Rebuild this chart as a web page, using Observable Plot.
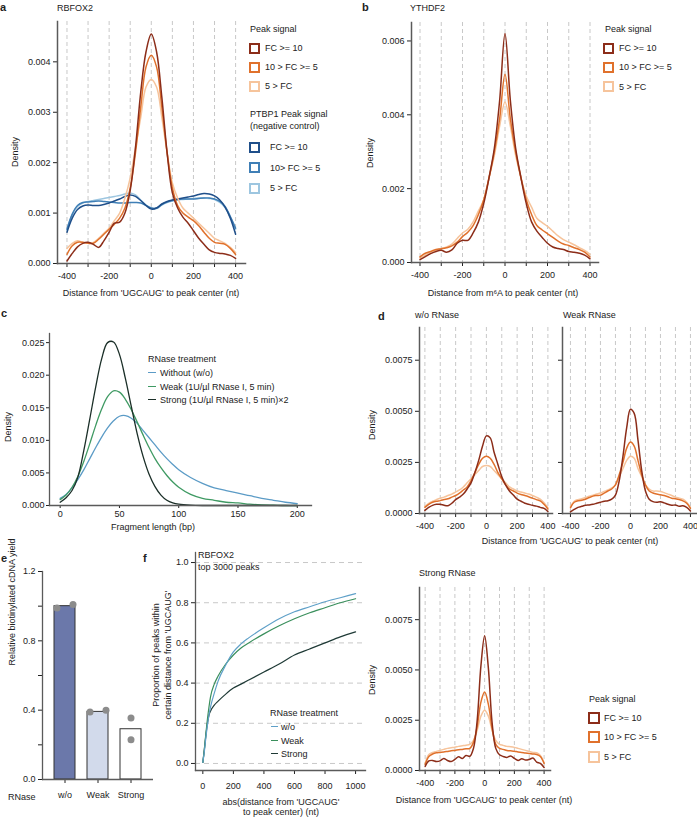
<!DOCTYPE html>
<html>
<head>
<meta charset="utf-8">
<script src="https://cdn.jsdelivr.net/npm/d3@7"></script>
<script src="https://cdn.jsdelivr.net/npm/@observablehq/plot@0.6"></script>
<style>
body{margin:0;background:#fff;}
#fig{position:relative;width:697px;height:818px;overflow:hidden;font-family:"Liberation Sans",Arial,sans-serif;color:#222;background:#fff;}
</style>
</head>
<body>
<div id="fig"></div>
<script>
// ---------------- DATA ----------------
// shared distance grid (nt) for density panels a, b, d
const distX = [-400,-375,-350,-325,-300,-275,-250,-225,-200,-175,-150,-125,-100,-75,-50,-25,0,25,50,75,100,125,150,175,200,225,250,275,300,325,350,375,400];
const distTicks = [-400,-300,-200,-100,0,100,200,300,400];
const distTickLabels = [-400,-200,0,200,400];

// panel a: RBFOX2
const aFC10 = [0.00005,0.0002,0.00033,0.0004,0.00042,0.00038,0.00032,0.00045,0.00062,0.0008,0.00082,0.001,0.00145,0.0023,0.0034,0.0042,0.00455,0.0042,0.0033,0.0022,0.0014,0.0011,0.00092,0.0008,0.00065,0.0005,0.00038,0.00027,0.00022,0.0002,0.00019,0.00016,0.0001];
const aFC5  = [0.00018,0.00035,0.00042,0.00042,0.0004,0.0004,0.00048,0.00058,0.00068,0.00078,0.0009,0.0011,0.0015,0.0022,0.0031,0.0039,0.00413,0.0039,0.0031,0.0022,0.0015,0.00115,0.001,0.00092,0.00085,0.00075,0.00062,0.0005,0.00042,0.0004,0.00038,0.0003,0.00018];
const aFClo = [0.0003,0.0004,0.00045,0.00042,0.0004,0.00042,0.0005,0.0006,0.0007,0.00085,0.001,0.0013,0.0017,0.0023,0.0029,0.0035,0.00365,0.0035,0.0029,0.0022,0.0016,0.0013,0.0011,0.001,0.0009,0.0008,0.0007,0.0006,0.0005,0.00045,0.0004,0.00032,0.00022];
const aPT10 = [0.00062,0.0009,0.00107,0.00114,0.00116,0.00115,0.00115,0.00117,0.0012,0.00124,0.00128,0.00133,0.00136,0.00133,0.00125,0.00115,0.00108,0.0011,0.00118,0.00123,0.00126,0.00128,0.0013,0.00132,0.00134,0.00137,0.00139,0.00138,0.00134,0.00126,0.00112,0.0009,0.00058];
const aPT5  = [0.00068,0.00098,0.00115,0.00121,0.00122,0.00123,0.00124,0.00123,0.00122,0.00121,0.0012,0.0012,0.00121,0.00121,0.0012,0.00115,0.0011,0.0011,0.00117,0.00122,0.00125,0.00127,0.00128,0.00128,0.00128,0.00129,0.0013,0.0013,0.00128,0.00123,0.00113,0.00093,0.0007];
const aPTlo = [0.00066,0.00097,0.00113,0.0012,0.00123,0.00125,0.00127,0.00129,0.00131,0.00133,0.00135,0.00138,0.0014,0.00136,0.00126,0.00116,0.0011,0.00109,0.00116,0.00121,0.00124,0.00126,0.00127,0.00128,0.00129,0.0013,0.0013,0.00129,0.00127,0.00121,0.00111,0.00092,0.00068];
const aYTicks = [0,0.001,0.002,0.003,0.004];

// panel b: YTHDF2
const bFC10 = [0.00008,0.00016,0.00024,0.0003,0.00033,0.00028,0.00034,0.00052,0.0006,0.0006,0.0008,0.0011,0.0016,0.0023,0.0031,0.0044,0.0062,0.0044,0.0031,0.0023,0.0016,0.0011,0.00085,0.00068,0.00052,0.00042,0.00038,0.00035,0.0003,0.00028,0.00025,0.0002,0.0001];
const bFC5  = [0.00015,0.00025,0.0003,0.00035,0.00037,0.0004,0.00045,0.00055,0.0007,0.00082,0.001,0.0013,0.0017,0.0023,0.003,0.0039,0.0051,0.0039,0.003,0.0023,0.0017,0.0013,0.001,0.00088,0.00078,0.00068,0.00058,0.0005,0.00046,0.0004,0.00035,0.00028,0.00015];
const bFClo = [0.00012,0.0002,0.00028,0.00033,0.00038,0.00042,0.0005,0.00065,0.0008,0.0009,0.0011,0.0014,0.0017,0.0023,0.0029,0.0037,0.00435,0.0037,0.0029,0.0023,0.0018,0.0015,0.0012,0.00108,0.00098,0.00085,0.00072,0.00062,0.00055,0.00048,0.0004,0.00033,0.00022];
const bYTicks = [0,0.002,0.004,0.006];

// panel c: fragment length densities
const fragX = [0,5,10,15,20,25,30,35,40,45,50,55,60,65,70,75,80,85,90,95,100,110,120,130,140,150,160,170,180,190,200];
const cWO     = [0.0011,0.0017,0.0027,0.004,0.0055,0.0072,0.0089,0.0105,0.0119,0.013,0.0137,0.0138,0.0134,0.0126,0.0115,0.0104,0.0093,0.0082,0.0072,0.0063,0.0055,0.0043,0.0034,0.0027,0.0023,0.0019,0.0015,0.0011,0.0008,0.0005,0.0003];
const cWeak   = [0.0009,0.0016,0.0028,0.0045,0.0068,0.0095,0.0123,0.0148,0.0167,0.0176,0.0174,0.0163,0.0147,0.0128,0.0108,0.0089,0.0072,0.0058,0.0046,0.0036,0.0028,0.0017,0.0011,0.0008,0.0005,0.0004,0.0002,0.0001,0.00005,0,0];
const cStrong = [0.0005,0.0012,0.0023,0.0044,0.0085,0.0133,0.0182,0.0225,0.025,0.0251,0.0232,0.0195,0.0152,0.011,0.0075,0.0048,0.0029,0.0016,0.0008,0.0004,0.0002,0.00005,0,0,0,0,0,0,0,0,0];
const cYTicks = [0,0.005,0.010,0.015,0.020,0.025];
const cXTicks = [0,50,100,150,200];
const cLegend = ["Without (w/o)","Weak (1U/\u00b5l RNase I, 5 min)","Strong (1U/\u00b5l RNase I, 5 min)\u00d72"];

// panel d: UGCAUG distance densities by RNase treatment
const d1FC10 = [0.00015,0.0003,0.0004,0.00045,0.00045,0.0004,0.00038,0.0005,0.00068,0.0008,0.00095,0.0012,0.0015,0.002,0.0026,0.0033,0.0038,0.0037,0.003,0.0024,0.0018,0.0014,0.0011,0.0009,0.0007,0.0006,0.0005,0.00045,0.0004,0.00036,0.0003,0.00025,0.0001];
const d1FC5  = [0.0003,0.00045,0.00055,0.0006,0.00063,0.00068,0.00072,0.0008,0.00088,0.001,0.00115,0.0013,0.0016,0.002,0.0024,0.0027,0.0028,0.0027,0.0024,0.002,0.0017,0.0014,0.0012,0.0011,0.001,0.00093,0.00088,0.00082,0.00075,0.00068,0.00062,0.00045,0.00022];
const d1FClo = [0.00035,0.0005,0.0006,0.00068,0.00075,0.0008,0.00088,0.00095,0.00105,0.00115,0.0013,0.0015,0.0017,0.0019,0.0021,0.0023,0.00235,0.0023,0.0021,0.0019,0.0017,0.0015,0.0013,0.0012,0.0011,0.00105,0.001,0.00095,0.00088,0.0008,0.0007,0.00052,0.00028];
const d2FC10 = [0.00008,0.0002,0.0003,0.00035,0.0004,0.00042,0.00045,0.0005,0.00055,0.0006,0.00062,0.0007,0.0009,0.0016,0.0028,0.0042,0.0051,0.0049,0.0036,0.0021,0.0011,0.0007,0.00058,0.00055,0.00058,0.00052,0.00045,0.0004,0.00042,0.00035,0.00038,0.0003,0.00012];
const d2FC5  = [0.00028,0.00055,0.00062,0.00065,0.0007,0.00078,0.00085,0.00088,0.0009,0.001,0.0011,0.0012,0.0014,0.0019,0.0025,0.0032,0.0035,0.0033,0.0026,0.0019,0.0014,0.0011,0.001,0.00095,0.00092,0.00088,0.00082,0.00075,0.00072,0.00068,0.00062,0.0005,0.00025];
const d2FClo = [0.00035,0.0006,0.00068,0.00072,0.00078,0.00085,0.0009,0.00095,0.001,0.00108,0.00115,0.00125,0.0014,0.0018,0.0022,0.0026,0.0028,0.0027,0.0022,0.0018,0.0014,0.0012,0.0011,0.0011,0.00108,0.00102,0.00095,0.00088,0.0008,0.00075,0.0007,0.00055,0.0003];
const d3FC10 = [0.0002,0.00048,0.0005,0.00045,0.00048,0.0006,0.0005,0.00045,0.00055,0.00068,0.0006,0.00075,0.0007,0.0011,0.0025,0.0052,0.0067,0.0051,0.0024,0.0011,0.00078,0.0007,0.00065,0.00072,0.0006,0.0005,0.00058,0.00052,0.00055,0.00062,0.00042,0.00035,0.00015];
const d3FC5  = [0.0003,0.0007,0.00082,0.00088,0.0009,0.00092,0.00095,0.00098,0.001,0.00103,0.00105,0.00108,0.0011,0.0014,0.0022,0.0034,0.0039,0.0033,0.0021,0.0013,0.0011,0.00105,0.001,0.00098,0.00096,0.00092,0.0009,0.00087,0.00085,0.00082,0.0008,0.0007,0.00035];
const d3FClo = [0.00035,0.0008,0.0009,0.00095,0.001,0.00105,0.0011,0.00113,0.00116,0.0012,0.00123,0.00126,0.0013,0.0015,0.002,0.0027,0.003,0.0027,0.002,0.0015,0.0013,0.00125,0.0012,0.00118,0.00115,0.0011,0.00105,0.001,0.00095,0.0009,0.00088,0.00075,0.00038];
const dYTicks = [0,0.0025,0.005,0.0075];
const dTitles = ["w/o RNase","Weak RNase","Strong RNase"];

// panel e: relative biotinylated cDNA yield
const eCats = ["w/o","Weak","Strong"];
const eMean = [1.0,0.39,0.29];
const eRep1 = [0.99,0.39,0.355];
const eRep2 = [1.01,0.40,0.23];
const eYTicks = [0,0.2,0.4,0.6,0.8,1.0,1.2];
const eYLabel = "Relative biotinylated cDNA yield";

// panel f: cumulative proportion of peaks within distance
const fX = [0,10,20,30,40,50,75,100,150,200,250,300,400,500,600,700,800,900,1000];
const fWO     = [0.005,0.06,0.13,0.19,0.24,0.28,0.35,0.41,0.49,0.555,0.595,0.625,0.675,0.72,0.755,0.78,0.805,0.825,0.845];
const fWeak   = [0.005,0.07,0.15,0.22,0.28,0.33,0.395,0.435,0.495,0.54,0.575,0.60,0.645,0.685,0.72,0.75,0.775,0.80,0.82];
const fStrong = [0.005,0.07,0.14,0.20,0.24,0.26,0.29,0.31,0.345,0.375,0.395,0.415,0.455,0.495,0.54,0.57,0.60,0.63,0.655];
const fXTicks = [0,200,400,600,800,1000];
const fYTicks = [0,0.2,0.4,0.6,0.8,1.0];
const fLegend = ["w/o","Weak","Strong"];

const peakLegend = ["FC >= 10","10 > FC >= 5","5 > FC"];
const ptbpLegend = ["FC >= 10","10> FC >= 5","5 > FC"];

// ---------------- STYLE ----------------
const FONT = '"Liberation Sans", Arial, sans-serif';
const AX = "#5a5a5a";
const GRID = "#c8c8c8";
const OR = ["#8c2d19","#e0712c","#f6c49c"];
const BL = ["#1f4f8a","#3f7fb6","#9dc6e0"];
const CC = ["#5b9bc6","#3f9a63","#1b2f28"];
const FC = ["#5fa0c8","#3a8f5c","#1f3a36"];
const EBAR = ["#6b78aa","#d2daeb","#ffffff"];

const fig = document.getElementById("fig");
const style = () => ({fontFamily: FONT, fontSize: "9px", color: "#222", background: "transparent", overflow: "visible"});

function place(svg, left, top) {
  svg.style.position = "absolute";
  svg.style.left = left + "px";
  svg.style.top = top + "px";
  svg.style.background = "transparent";
  fig.appendChild(svg);
  return svg;
}
function txt(s, x, y, o = {}) {
  const d = document.createElement("div");
  d.textContent = s;
  d.style.position = "absolute";
  d.style.left = x + "px";
  d.style.top = y + "px";
  d.style.fontSize = (o.size || 9) + "px";
  d.style.fontWeight = o.bold ? "bold" : "normal";
  d.style.whiteSpace = "nowrap";
  d.style.lineHeight = "1";
  d.style.color = "#222";
  let tr = o.anchor === "middle" ? "translate(-50%,-50%)" : "translate(0,-50%)";
  if (o.rotate) tr = "translate(-50%,-50%) rotate(-90deg)";
  d.style.transform = tr;
  fig.appendChild(d);
}
function box(color, x, y, size = 11) {
  const d = document.createElement("div");
  d.style.position = "absolute";
  d.style.left = x + "px";
  d.style.top = (y - size / 2) + "px";
  d.style.width = size + "px";
  d.style.height = size + "px";
  d.style.boxSizing = "border-box";
  d.style.border = "2px solid " + color;
  fig.appendChild(d);
}
function seg(color, x, y, w = 8) {
  const d = document.createElement("div");
  d.style.position = "absolute";
  d.style.left = x + "px";
  d.style.top = (y - 0.75) + "px";
  d.style.width = w + "px";
  d.style.height = "0";
  d.style.borderTop = "1.5px solid " + color;
  fig.appendChild(d);
}
const dens = (xs, ys, color, w = 1.5) => Plot.line(xs, {x: d => d, y: (d, i) => ys[i], stroke: color, strokeWidth: w, curve: "catmull-rom"});
const fmtInt = d => String(d);
const axisL = (w = 1.5) => Plot.frame({anchor: "left", stroke: AX, strokeWidth: w});
const axisB = (w = 1.5) => Plot.frame({anchor: "bottom", stroke: AX, strokeWidth: w});

// ---------------- PANEL e ----------------
const eRows = eCats.map((c, i) => ({c, m: eMean[i], r1: eRep1[i], r2: eRep2[i], fill: EBAR[i]}));
place(Plot.plot({
  width: 160, height: 250, marginLeft: 42, marginRight: 7, marginTop: 21, marginBottom: 21, style: style(),
  x: {type: "band", domain: eCats, range: [46.6, 147.9], paddingInner: 0.378, paddingOuter: 0.189, tickSize: 4, tickPadding: 8, label: null},
  y: {domain: [0, 1.2], ticks: eYTicks, tickSize: 4, tickPadding: 3, tickFormat: (d, i) => (i % 2 === 0 ? d.toFixed(1) : ""), label: null},
  marks: [
    Plot.barY(eRows, {x: "c", y: "m", fill: d => d.fill, stroke: "#333", strokeWidth: 1}),
    Plot.dot(eRows.filter(d => d.c !== "Strong"), {x: "c", y: "r1", r: 3.5, fill: "#8c8c8c", dx: -8}),
    Plot.dot(eRows.filter(d => d.c !== "Strong"), {x: "c", y: "r2", r: 3.5, fill: "#8c8c8c", dx: 8}),
    Plot.dot(eRows.filter(d => d.c === "Strong"), {x: "c", y: "r1", r: 3.5, fill: "#8c8c8c"}),
    Plot.dot(eRows.filter(d => d.c === "Strong"), {x: "c", y: "r2", r: 3.5, fill: "#8c8c8c"}),
    Plot.text([eYLabel], {text: d => d, frameAnchor: "left", rotate: -90, dx: -30, dy: -10, fill: "#222", fontSize: 9}),
    axisL(1.3),
    Plot.ruleY([0], {stroke: AX, strokeWidth: 1.3})
  ]
}), 0, 550);
txt("e", 1, 558, {bold: true, size: 11});
txt("RNase", 8, 797);

// ---------------- PANEL a ----------------
place(Plot.plot({
  width: 250, height: 290, marginLeft: 57, marginRight: 5, marginTop: 21, marginBottom: 27, style: style(),
  x: {domain: [-445, 447], ticks: distTicks, tickSize: 4, tickPadding: 5, tickFormat: d => distTickLabels.includes(d) ? fmtInt(d) : "", label: null},
  y: {domain: [0, 0.0048], ticks: aYTicks, tickSize: 4, tickPadding: 3, tickFormat: d3.format(".3f"), label: null},
  marks: [
    Plot.ruleX(distTicks, {stroke: GRID, strokeDasharray: "4,3"}),
    dens(distX, aPTlo, BL[2]), dens(distX, aPT5, BL[1]), dens(distX, aPT10, BL[0]),
    dens(distX, aFClo, OR[2]), dens(distX, aFC5, OR[1]), dens(distX, aFC10, OR[0]),
    axisL(), axisB()
  ]
}), 0, 0);
txt("a", 0, 7, {bold: true, size: 11});
txt("RBFOX2", 57, 8);
txt("Density", 15, 152, {rotate: true});
txt("Distance from 'UGCAUG' to peak center (nt)", 151, 293, {anchor: "middle"});
txt("Peak signal", 250, 29);
peakLegend.forEach((s, i) => { box(OR[i], 249, 48 + i * 19); txt(s, 265, 48 + i * 19); });
txt("PTBP1 Peak signal", 250, 114);
txt("(negative control)", 250, 126);
ptbpLegend.forEach((s, i) => { box(BL[i], 249, 147 + i * 20.5); txt(s, 270, 147 + i * 20.5); });

// ---------------- PANEL b ----------------
place(Plot.plot({
  width: 250, height: 290, marginLeft: 61, marginRight: 2, marginTop: 22, marginBottom: 28, style: style(),
  x: {domain: [-440, 440], ticks: distTicks, tickSize: 4, tickPadding: 5, tickFormat: d => distTickLabels.includes(d) ? fmtInt(d) : "", label: null},
  y: {domain: [0, 0.0065], ticks: bYTicks, tickSize: 4, tickPadding: 3, tickFormat: d3.format(".3f"), label: null},
  marks: [
    Plot.ruleX(distTicks, {stroke: GRID, strokeDasharray: "4,3"}),
    dens(distX, bFClo, OR[2]), dens(distX, bFC5, OR[1]), dens(distX, bFC10, OR[0]),
    axisL(), axisB()
  ]
}), 350, 0);
txt("b", 362, 7, {bold: true, size: 11});
txt("YTHDF2", 410, 8);
txt("Density", 370, 153, {rotate: true});
txt("Distance from m\u2076A to peak center (nt)", 503, 293, {anchor: "middle"});
txt("Peak signal", 605, 29);
peakLegend.forEach((s, i) => { box(OR[i], 603, 48 + i * 19.3); txt(s, 619, 48 + i * 19.3); });

// ---------------- PANEL c ----------------
place(Plot.plot({
  width: 320, height: 230, marginLeft: 49, marginRight: 9, marginTop: 23, marginBottom: 35, style: style(),
  x: {domain: [-9, 212], ticks: cXTicks, tickSize: 3, tickPadding: 2, tickFormat: fmtInt, label: null},
  y: {domain: [0, 0.0264], ticks: cYTicks, tickSize: 3, tickPadding: 2, tickFormat: d3.format(".3f"), label: null},
  marks: [
    dens(fragX, cWO, CC[0], 1.3), dens(fragX, cWeak, CC[1], 1.3), dens(fragX, cStrong, CC[2], 1.3),
    axisL(1.3), axisB(1.3)
  ]
}), 0, 310);
txt("c", 1, 313, {bold: true, size: 11});
txt("Density", 8, 427, {rotate: true});
txt("Fragment length (bp)", 153, 527, {anchor: "middle"});
txt("RNase treatment", 148, 359);
cLegend.forEach((s, i) => { seg(CC[i], 148, 373 + i * 13.5); txt(s, 160, 373 + i * 13.5); });

// ---------------- PANEL d ----------------
const dPanel = (series, left, top, h, mt, mb, ml, w, mr, xdom, showY) => place(Plot.plot({
  width: w, height: h, marginLeft: ml, marginRight: mr, marginTop: mt, marginBottom: mb, style: style(),
  x: {domain: xdom, ticks: distTicks, tickSize: 4, tickPadding: 5, tickFormat: d => distTickLabels.includes(d) ? fmtInt(d) : "", label: null},
  y: {domain: [0, 0.0091], ticks: dYTicks, tickSize: 4, tickPadding: 3, tickFormat: showY ? d3.format(".4f") : () => "", label: null},
  marks: [
    Plot.ruleX(distTicks, {stroke: GRID, strokeDasharray: "4,3"}),
    dens(distX, series[2], OR[2]), dens(distX, series[1], OR[1]), dens(distX, series[0], OR[0]),
    axisL(), axisB()
  ]
}), left, top);
dPanel([d1FC10, d1FC5, d1FClo], 350, 310, 230, 17, 27, 69, 205, 3, [-435, 430], true);
dPanel([d2FC10, d2FC5, d2FClo], 555, 310, 230, 17, 27, 7, 142, 0, [-453, 447], false);
dPanel([d3FC10, d3FC5, d3FClo], 350, 560, 230, 27, 20, 69, 203, 3, [-438, 443], true);
txt("d", 378, 316, {bold: true, size: 11});
txt(dTitles[0], 415, 315);
txt(dTitles[1], 563, 315);
txt(dTitles[2], 419, 573);
txt("Density", 372, 425, {rotate: true});
txt("Density", 372, 680, {rotate: true});
txt("Distance from 'UGCAUG' to peak center (nt)", 570, 541, {anchor: "middle"});
txt("Distance from 'UGCAUG' to peak center (nt)", 484, 800, {anchor: "middle"});
txt("Peak signal", 589, 699);
peakLegend.forEach((s, i) => { box(OR[i], 588, 718 + i * 19.3, 12); txt(s, 604, 718 + i * 19.3); });

// ---------------- PANEL f ----------------
place(Plot.plot({
  width: 220, height: 250, marginLeft: 45, marginRight: 5, marginTop: 12, marginBottom: 20, style: style(),
  x: {domain: [-48, 1065], ticks: fXTicks, tickSize: 4, tickPadding: 8, tickFormat: fmtInt, label: null},
  y: {domain: [-0.035, 1.05], ticks: fYTicks, tickSize: 4, tickPadding: 3, tickFormat: d3.format(".1f"), label: null},
  marks: [
    Plot.ruleY(fYTicks, {stroke: GRID, strokeDasharray: "5,4"}),
    Plot.line(fX, {x: d => d, y: (d, i) => fStrong[i], stroke: FC[2], strokeWidth: 1.2, curve: "monotone-x"}),
    Plot.line(fX, {x: d => d, y: (d, i) => fWeak[i], stroke: FC[1], strokeWidth: 1.2, curve: "monotone-x"}),
    Plot.line(fX, {x: d => d, y: (d, i) => fWO[i], stroke: FC[0], strokeWidth: 1.2, curve: "monotone-x"}),
    axisL(1.3), axisB(1.3)
  ]
}), 150, 540);
txt("f", 143, 558, {bold: true, size: 11});
txt("RBFOX2", 198, 555);
txt("top 3000 peaks", 198, 567);
txt("Proportion of peaks within", 156, 655, {rotate: true});
txt("certain distance from 'UGCAUG'", 168, 655, {rotate: true});
txt("abs(distance from 'UGCAUG'", 281, 802, {anchor: "middle"});
txt("to peak center) (nt)", 281, 812, {anchor: "middle"});
txt("RNase treatment", 270, 713);
fLegend.forEach((s, i) => { seg(FC[i], 271, 727 + i * 13.5, 7); txt(s, 281, 727 + i * 13.5); });
</script>
</body>
</html>
